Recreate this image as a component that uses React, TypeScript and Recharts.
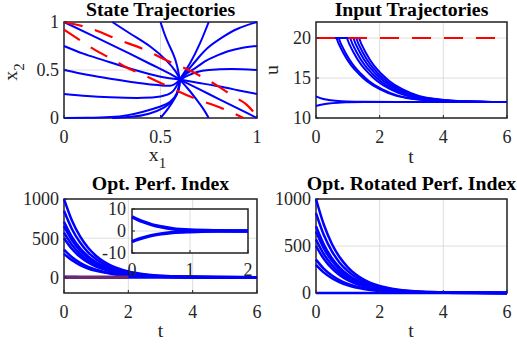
import React from 'react';
import { LineChart, Line, XAxis, YAxis, CartesianGrid, ReferenceArea } from 'recharts';

// ---------- Panel 1: State trajectories (x1, x2) ----------
const stateTicks = [0, 0.5, 1];
const traj01 = [[0, 1], [0.15, 0.855], [0.3, 0.71], [0.45, 0.56], [0.55, 0.46], [0.6, 0.4]];
const traj02 = [[0.25, 1], [0.35, 0.87], [0.45, 0.74], [0.53, 0.6], [0.58, 0.48], [0.6, 0.4]];
const traj03 = [[0.5, 1], [0.52, 0.88], [0.54, 0.78], [0.565, 0.67], [0.585, 0.55], [0.6, 0.4]];
const traj04 = [[0.75, 1], [0.705, 0.78], [0.653, 0.57], [0.615, 0.45], [0.6, 0.4]];
const traj05 = [[1, 1], [0.9, 0.93], [0.82, 0.84], [0.75, 0.74], [0.695, 0.625], [0.635, 0.48], [0.6, 0.4]];
const traj06 = [[1, 0.75], [0.92, 0.73], [0.85, 0.695], [0.78, 0.64], [0.73, 0.59], [0.68, 0.52], [0.64, 0.47], [0.6, 0.4]];
const traj07 = [[1, 0.5], [0.87, 0.51], [0.75, 0.5], [0.69, 0.48], [0.65, 0.45], [0.6, 0.4]];
const traj08 = [[1, 0.25], [0.9, 0.29], [0.8, 0.33], [0.7, 0.365], [0.6, 0.4]];
const traj09 = [[1, 0], [0.9, 0.1], [0.8, 0.2], [0.7, 0.3], [0.6, 0.4]];
const traj10 = [[0.75, 0], [0.72, 0.1], [0.68, 0.21], [0.64, 0.31], [0.6, 0.4]];
const traj11 = [[0.5, 0], [0.54, 0.1], [0.575, 0.21], [0.595, 0.31], [0.6, 0.4]];
const traj12 = [[0, 0], [0.12, 0.002], [0.24, 0.01], [0.33, 0.03], [0.41, 0.066], [0.5, 0.12], [0.55, 0.17], [0.585, 0.26], [0.6, 0.4]];
const traj13 = [[0.25, 0], [0.35, 0.012], [0.44, 0.045], [0.52, 0.11], [0.57, 0.2], [0.595, 0.3], [0.6, 0.4]];
const traj14 = [[0, 0.25], [0.12, 0.228], [0.24, 0.215], [0.41, 0.21], [0.5, 0.225], [0.56, 0.27], [0.6, 0.4]];
const traj15 = [[0, 0.5], [0.12, 0.45], [0.24, 0.41], [0.41, 0.36], [0.5, 0.34], [0.56, 0.34], [0.6, 0.4]];
const traj16 = [[0, 0.75], [0.1, 0.67], [0.2, 0.605], [0.35, 0.51], [0.5, 0.43], [0.6, 0.4]];
const stateTrajs = [traj01, traj02, traj03, traj04, traj05, traj06, traj07, traj08, traj09, traj10, traj11, traj12, traj13, traj14, traj15, traj16];
const boundUpper = [[0, 1], [0.126, 0.94], [0.281, 0.816], [0.437, 0.695], [0.506, 0.625], [0.66, 0.486], [0.8, 0.33], [0.877, 0.226], [0.946, 0.14], [1, 0.02]];
const boundLower = [[0, 0.92], [0.09, 0.8], [0.16, 0.71], [0.238, 0.625], [0.307, 0.545], [0.446, 0.417], [0.506, 0.36], [0.67, 0.21], [0.82, 0.1], [0.93, 0]];

// ---------- Panel 2: Input trajectories ----------
const timeTicks = [0, 2, 4, 6];
const inputTicks = [10, 15, 20];
const uSat = [20, 20, 19.3, 18.2, 16.6, 15.5, 14.6, 13.6, 12.8, 12.4, 12.1, 12.0];
const tSatA = [0, 0.63, 0.71, 0.85, 1.1, 1.35, 1.6, 2.0, 2.5, 3.0, 4.0, 6];
const tSatB = [0, 0.7, 0.78, 0.92, 1.17, 1.42, 1.67, 2.07, 2.57, 3.07, 4.05, 6];
const tSatC = [0, 0.96, 1.04, 1.18, 1.43, 1.68, 1.93, 2.33, 2.83, 3.33, 4.2, 6];
const tSatD = [0, 1.06, 1.14, 1.28, 1.53, 1.78, 2.03, 2.43, 2.93, 3.43, 4.3, 6];
const tSatE = [0, 1.16, 1.24, 1.38, 1.63, 1.88, 2.13, 2.53, 3.03, 3.53, 4.4, 6];
const tSatF = [0, 1.25, 1.33, 1.47, 1.72, 1.97, 2.22, 2.62, 3.12, 3.62, 4.5, 6];
const tSatG = [0, 1.34, 1.42, 1.56, 1.81, 2.06, 2.31, 2.71, 3.21, 3.71, 4.6, 6];
const satTimes = [tSatA, tSatB, tSatC, tSatD, tSatE, tSatF, tSatG];
const tFree = [0, 0.2, 0.4, 0.7, 1.0, 1.5, 2.5, 6];
const uFreeHigh = [12.7, 12.4, 12.25, 12.12, 12.06, 12.02, 12.0, 12.0];
const uFreeLow = [11.5, 11.7, 11.82, 11.92, 11.96, 11.99, 12.0, 12.0];
const uMax = [20, 20];
const tEnds = [0, 6];

// ---------- Panels 3 & 4: performance indices ----------
const costTicks = [0, 500, 1000];
const tCost = [0, 0.25, 0.5, 0.75, 1, 1.5, 2, 2.5, 3, 4, 6];
const cost1 = [1000, 723, 522, 377, 273, 142, 74, 39, 20, 6, 0];
const cost2 = [850, 614, 444, 320, 232, 121, 63, 33, 17, 5, 0];
const cost3 = [710, 513, 371, 268, 193, 101, 53, 28, 14, 4, 0];
const cost4 = [655, 473, 342, 247, 178, 93, 49, 25, 13, 4, 0];
const cost5 = [570, 412, 298, 215, 155, 81, 42, 22, 12, 3, 0];
const cost6 = [500, 361, 261, 189, 136, 71, 37, 19, 10, 3, 0];
const cost7 = [355, 256, 185, 134, 97, 50, 26, 14, 7, 2, 0];
const cost8 = [300, 217, 157, 113, 82, 43, 22, 12, 6, 2, 0];
const costCurves = [cost1, cost2, cost3, cost4, cost5, cost6, cost7, cost8];
const tSmall = [0, 0.1, 0.2, 0.35, 0.5, 0.7, 1, 1.5, 2, 6];
const smallHigh = [6.5, 5.2, 4.1, 2.8, 1.9, 1.0, 0.4, 0.1, 0, 0];
const smallLow = [-4.8, -3.8, -3.0, -2.0, -1.3, -0.7, -0.3, -0.05, 0, 0];
const zoomBand = [0, 0];
const tZoom = [0, 2];
const insetTimeTicks = [0, 1, 2];
const insetTicks = [-10, 0, 10];

const pairPts = (arr: number[][]) => arr.map(([x, y]) => ({ x, y }));
const pts = (xs: number[], ys: number[]) => xs.map((x, i) => ({ x, y: ys[i] }));

const FONT = 'Liberation Serif';
const TICK = { fontSize: 18, fill: '#262626', fontFamily: FONT, style: { fontFamily: FONT } };
const BLUE = '#0000ff';
const RED = '#ff0000';
const BOX = '#262626';
const GRID = '#dedede';
const TL = { stroke: BOX, strokeWidth: 1 };
const TS = -3;

function axes(xd: number[], xt: number[], yd: number[], yt: number[], yw: number, xm = 12, ym = 5) {
  return [
    <XAxis key="xb" type="number" dataKey="x" domain={xd} ticks={xt} interval={0} tick={TICK}
      tickLine={TL} axisLine={false} tickSize={TS} tickMargin={xm - TS} height={30} />,
    <XAxis key="xt" xAxisId="top" orientation="top" type="number" dataKey="x" domain={xd} ticks={xt} interval={0} tick={false}
      tickLine={TL} axisLine={false} tickSize={TS} height={0} />,
    <YAxis key="yl" type="number" domain={yd} ticks={yt} interval={0} tick={TICK}
      tickLine={TL} axisLine={false} tickSize={TS} tickMargin={ym - TS} width={yw} />,
    <YAxis key="yr" yAxisId="right" orientation="right" type="number" domain={yd} ticks={yt} interval={0} tick={false}
      tickLine={TL} axisLine={false} tickSize={TS} width={0} />,
  ];
}
function box(x1: number, x2: number, y1: number, y2: number) {
  return <ReferenceArea x1={x1} x2={x2} y1={y1} y2={y2} fill="none" fillOpacity={0} stroke={BOX} strokeWidth={1.5} ifOverflow="visible" />;
}

const TXT: React.CSSProperties = { position: 'absolute', fontFamily: FONT, fontSize: 19.8, lineHeight: '12px', height: 12, textAlign: 'center', whiteSpace: 'nowrap', color: '#262626' };
const TITLE: React.CSSProperties = { ...TXT, fontWeight: 'bold', color: '#000' };
const SUB: React.CSSProperties = { fontSize: 15, position: 'relative', top: 7 };

export default function App() {
  return (
    <div style={{ position: 'absolute', left: 0, top: 0, width: 517, height: 347, background: '#fff', overflow: 'hidden', fontFamily: FONT }}>
      {/* Panel 1 */}
      <div style={{ position: 'absolute', left: 0, top: 0 }}>
        <LineChart width={270} height={175} margin={{ top: 22, right: 13, bottom: 27, left: 14 }}>
          <CartesianGrid stroke={GRID} />
          {axes([0, 1], stateTicks, [0, 1], stateTicks, 50)}
          {box(0, 1, 0, 1)}
          {stateTrajs.map((t, i) => (
            <Line key={'s' + i} data={pairPts(t)} dataKey="y" type="natural" stroke={BLUE} strokeWidth={2} dot={false} activeDot={false} isAnimationActive={false} />
          ))}
          <Line data={pairPts(boundUpper)} dataKey="y" type="monotone" stroke={RED} strokeWidth={2.2} strokeDasharray="19 13" dot={false} activeDot={false} isAnimationActive={false} />
          <Line data={pairPts(boundLower)} dataKey="y" type="monotone" stroke={RED} strokeWidth={2.2} strokeDasharray="19 13" dot={false} activeDot={false} isAnimationActive={false} />
        </LineChart>
      </div>

      {/* Panel 2 */}
      <div style={{ position: 'absolute', left: 260, top: 0 }}>
        <LineChart width={257} height={175} margin={{ top: 22, right: 10, bottom: 27, left: 16 }}>
          <CartesianGrid stroke={GRID} />
          {axes([0, 6], timeTicks, [10, 22], inputTicks, 40)}
          {box(0, 6, 10, 22)}
          {satTimes.map((t, i) => (
            <Line key={'u' + i} data={pts(t, uSat)} dataKey="y" type="monotone" stroke={BLUE} strokeWidth={2} dot={false} activeDot={false} isAnimationActive={false} />
          ))}
          <Line data={pts(tFree, uFreeHigh)} dataKey="y" type="monotone" stroke={BLUE} strokeWidth={2} dot={false} activeDot={false} isAnimationActive={false} />
          <Line data={pts(tFree, uFreeLow)} dataKey="y" type="monotone" stroke={BLUE} strokeWidth={2} dot={false} activeDot={false} isAnimationActive={false} />
          <Line data={pts(tEnds, uMax)} dataKey="y" type="linear" stroke={RED} strokeWidth={2.2} strokeDasharray="19 13" dot={false} activeDot={false} isAnimationActive={false} />
        </LineChart>
      </div>

      {/* Panel 3 */}
      <div style={{ position: 'absolute', left: 0, top: 175 }}>
        <LineChart width={270} height={172} margin={{ top: 24, right: 13, bottom: 24, left: 14 }}>
          <CartesianGrid stroke={GRID} />
          {axes([0, 6], timeTicks, [-200, 1000], costTicks, 50)}
          {box(0, 6, -200, 1000)}
          {costCurves.map((c, i) => (
            <Line key={'j' + i} data={pts(tCost, c)} dataKey="y" type="monotone" stroke={BLUE} strokeWidth={2.5} dot={false} activeDot={false} isAnimationActive={false} />
          ))}
          <Line data={pts(tSmall, smallHigh)} dataKey="y" type="monotone" stroke={BLUE} strokeWidth={2.5} dot={false} activeDot={false} isAnimationActive={false} />
          <Line data={pts(tSmall, smallLow)} dataKey="y" type="monotone" stroke={BLUE} strokeWidth={2.5} dot={false} activeDot={false} isAnimationActive={false} />
          <Line data={pts(tZoom, zoomBand)} dataKey="y" type="linear" stroke="#6e2a70" strokeWidth={3.5} dot={false} activeDot={false} isAnimationActive={false} />
        </LineChart>
      </div>

      {/* Inset */}
      <div style={{ position: 'absolute', left: 92, top: 199 }}>
        <LineChart width={162} height={84} margin={{ top: 10, right: 6, bottom: 0, left: 4 }}>
          <CartesianGrid stroke={GRID} fill="#ffffff" fillOpacity={1} />
          {axes([0, 2], insetTimeTicks, [-10, 10], insetTicks, 36, 10, 6)}
          {box(0, 2, -10, 10)}
          <Line data={pts(tSmall.slice(0, 9), smallHigh.slice(0, 9))} dataKey="y" type="monotone" stroke={BLUE} strokeWidth={3.5} dot={false} activeDot={false} isAnimationActive={false} />
          <Line data={pts(tSmall.slice(0, 9), smallLow.slice(0, 9))} dataKey="y" type="monotone" stroke={BLUE} strokeWidth={3.5} dot={false} activeDot={false} isAnimationActive={false} />
        </LineChart>
      </div>

      {/* Panel 4 */}
      <div style={{ position: 'absolute', left: 260, top: 175 }}>
        <LineChart width={257} height={172} margin={{ top: 24, right: 10, bottom: 24, left: 16 }}>
          <CartesianGrid stroke={GRID} />
          {axes([0, 6], timeTicks, [0, 1000], costTicks, 40)}
          {box(0, 6, 0, 1000)}
          {costCurves.map((c, i) => (
            <Line key={'r' + i} data={pts(tCost, c)} dataKey="y" type="monotone" stroke={BLUE} strokeWidth={2.5} dot={false} activeDot={false} isAnimationActive={false} />
          ))}
          <Line data={pts(tEnds, [0, 0])} dataKey="y" type="linear" stroke={BLUE} strokeWidth={2.5} dot={false} activeDot={false} isAnimationActive={false} />
        </LineChart>
      </div>

      {/* Titles */}
      <div style={{ ...TITLE, left: 40.5, width: 240, top: 2.8 }}>State Trajectories</div>
      <div style={{ ...TITLE, left: 291.5, width: 240, top: 2.8 }}>Input Trajectories</div>
      <div style={{ ...TITLE, left: 40.5, width: 240, top: 177.3 }}>Opt. Perf. Index</div>
      <div style={{ ...TITLE, left: 291.5, width: 240, top: 177.3 }}>Opt. Rotated Perf. Index</div>

      {/* Axis labels */}
      <div style={{ ...TXT, left: 117.5, width: 80, top: 148.3 }}>x<span style={SUB}>1</span></div>
      <div style={{ ...TXT, left: 371, width: 80, top: 150.3 }}>t</div>
      <div style={{ ...TXT, left: 120.5, width: 80, top: 323.8 }}>t</div>
      <div style={{ ...TXT, left: 371, width: 80, top: 323.8 }}>t</div>
      <div style={{ ...TXT, left: 0.3, width: 20, top: 66, transform: 'rotate(-90deg)' }}>x<span style={SUB}>2</span></div>
      <div style={{ ...TXT, left: 261.3, width: 20, top: 64, transform: 'rotate(-90deg)' }}>u</div>
    </div>
  );
}
